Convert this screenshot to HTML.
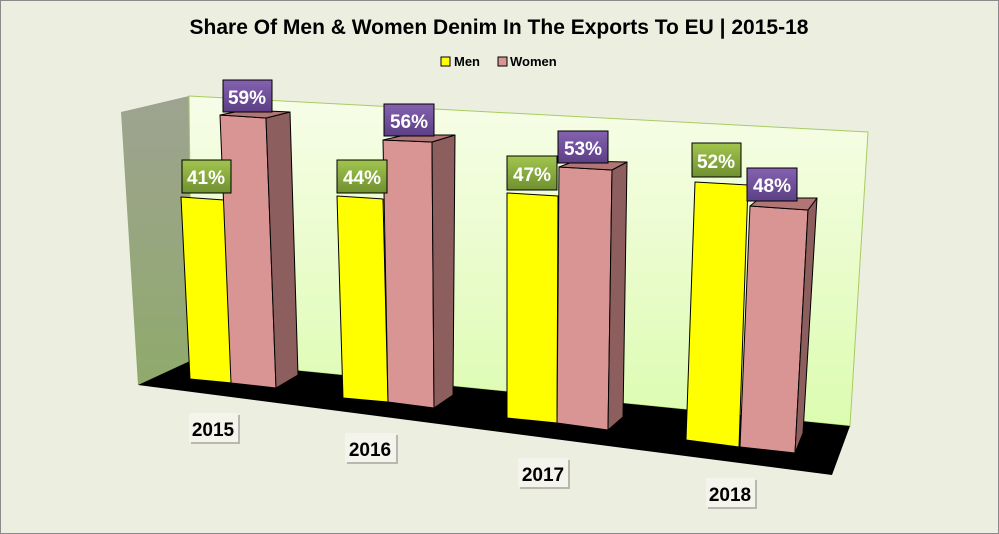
<!DOCTYPE html>
<html><head><meta charset="utf-8"><style>
html,body{margin:0;padding:0;background:#fff}
svg{display:block}
text{font-family:"Liberation Sans","DejaVu Sans",sans-serif;font-weight:bold}
</style></head><body>
<svg width="999" height="534" viewBox="0 0 999 534" xmlns="http://www.w3.org/2000/svg">
<defs>
<linearGradient id="wall" x1="0" y1="0" x2="0" y2="1"><stop offset="0" stop-color="#f7fde8"/><stop offset="1" stop-color="#dcfcb0"/></linearGradient>
<linearGradient id="lwall" x1="0" y1="0" x2="0" y2="1"><stop offset="0" stop-color="#9ea391"/><stop offset="1" stop-color="#8faa6c"/></linearGradient>
<linearGradient id="gl" x1="0" y1="0" x2="0" y2="1"><stop offset="0" stop-color="#a2c54e"/><stop offset="1" stop-color="#6f9030"/></linearGradient>
<linearGradient id="pl" x1="0" y1="0" x2="0" y2="1"><stop offset="0" stop-color="#8462b0"/><stop offset="1" stop-color="#5c3f85"/></linearGradient>
</defs>
<rect x="0.5" y="0.5" width="998" height="533" fill="#ecefe0" stroke="#8a8a8a"/>
<text x="499" y="34" font-size="21" text-anchor="middle" fill="#000">Share Of Men &amp; Women Denim In The Exports To EU | 2015-18</text>
<rect x="441" y="57" width="9" height="9" fill="#ffff00" stroke="#000"/>
<text x="454" y="66" font-size="13">Men</text>
<rect x="498" y="57" width="9" height="9" fill="#d99594" stroke="#000"/>
<text x="510" y="66" font-size="13">Women</text>
<polygon points="121,112 189,96 192,360 138,385" fill="url(#lwall)"/>
<polygon points="189,96 868,132 850,426 192,360" fill="url(#wall)" stroke="#a8cc60" stroke-width="1"/>
<polygon points="138,385 192,360 850,426 832,475" fill="#000"/>
<g stroke="#000" stroke-width="1" stroke-linejoin="round">
<polygon points="181,197 224,200 232,383 190,379" fill="#ffff00"/>
<polygon points="220,115 266,118 276,388 231,383" fill="#d99594"/>
<polygon points="266,118 290,112 298,375 276,388" fill="#8c5e5d"/>
<polygon points="220,115 245,110 290,112 266,118" fill="#b07574"/>
<polygon points="337,196 383,199 388,402 343,398" fill="#ffff00"/>
<polygon points="383,140 432,142 434,408 388,402" fill="#d99594"/>
<polygon points="432,142 455,135 453,395 434,408" fill="#8c5e5d"/>
<polygon points="383,140 405,135 455,135 432,142" fill="#b07574"/>
<polygon points="507,193 558,196 557,423 507,418" fill="#ffff00"/>
<polygon points="559,167 612,170 608,430 557,423" fill="#d99594"/>
<polygon points="612,170 627,162 623,417 608,430" fill="#8c5e5d"/>
<polygon points="559,167 575,161 627,162 612,170" fill="#b07574"/>
<polygon points="695,182 748,185 739,447 686,440" fill="#ffff00"/>
<polygon points="750,206 808,210 795,453 740,447" fill="#d99594"/>
<polygon points="808,210 817,198 803,433 795,453" fill="#8c5e5d"/>
<polygon points="750,206 760,198 817,198 808,210" fill="#b07574"/>
</g>
<g stroke="#000" stroke-width="1">
<rect x="182" y="160" width="49" height="33" fill="url(#gl)"/>
<rect x="223" y="80" width="49" height="32" fill="url(#pl)"/>
<rect x="337" y="160" width="50" height="33" fill="url(#gl)"/>
<rect x="384" y="104" width="50" height="32" fill="url(#pl)"/>
<rect x="507" y="156" width="50" height="34" fill="url(#gl)"/>
<rect x="558" y="131" width="50" height="32" fill="url(#pl)"/>
<rect x="692" y="143" width="49" height="34" fill="url(#gl)"/>
<rect x="747" y="168" width="50" height="33" fill="url(#pl)"/>
</g>
<g font-size="19" fill="#fff" text-anchor="middle">
<text x="206" y="184">41%</text>
<text x="247" y="104">59%</text>
<text x="362" y="184">44%</text>
<text x="409" y="128">56%</text>
<text x="532" y="181">47%</text>
<text x="583" y="155">53%</text>
<text x="716" y="168">52%</text>
<text x="772" y="192">48%</text>
</g>
<g fill="#b8b8b0">
<rect x="191" y="415" width="49" height="29"/>
<rect x="347" y="435" width="51" height="29"/>
<rect x="520" y="460" width="50" height="29"/>
<rect x="708" y="480" width="49" height="29"/>
</g>
<g fill="#f4f4ec">
<rect x="189" y="413" width="49" height="29"/>
<rect x="345" y="433" width="51" height="29"/>
<rect x="518" y="458" width="50" height="29"/>
<rect x="706" y="478" width="49" height="29"/>
</g>
<g font-size="19" fill="#000" text-anchor="middle">
<text x="213" y="436">2015</text>
<text x="370" y="456">2016</text>
<text x="543" y="481">2017</text>
<text x="730" y="501">2018</text>
</g>
</svg>
</body></html>
